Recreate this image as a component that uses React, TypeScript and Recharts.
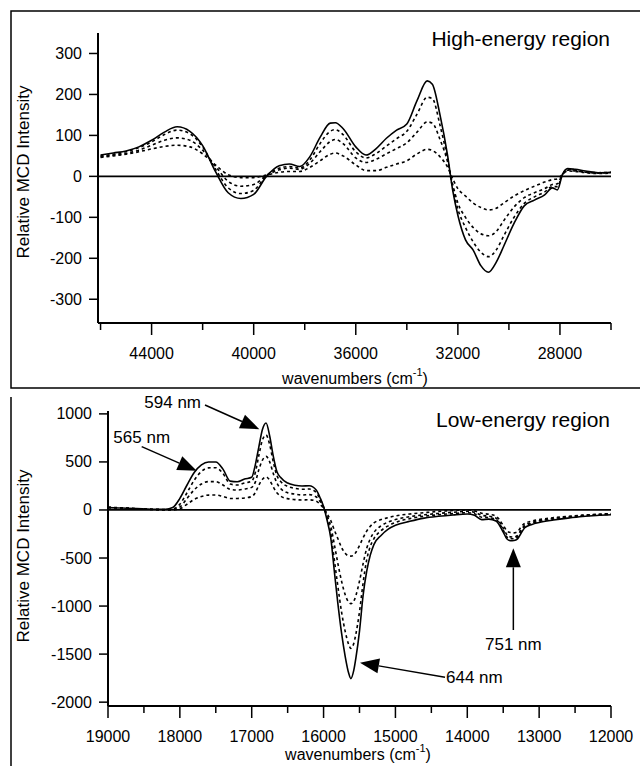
import React from "react";
import { LineChart, Line, XAxis, YAxis, ReferenceLine } from "recharts";

// ---- high-energy region ----
const highX = [
  46000, 45500, 45000, 44500, 44000, 43500, 43000, 42500, 42000, 41500,
  41000, 40500, 40000, 39500, 39000, 38600, 38200, 37800, 37400, 37000,
  36800, 36500, 36000, 35600, 35200, 34800, 34400, 34000, 33600, 33200,
  33000, 32700, 32400, 32200, 32000, 31700, 31400, 31100, 30800, 30500,
  30200, 29800, 29400, 29000, 28600, 28300, 28100, 27900, 27700, 27400,
  27000, 26500, 26000,
];
const highSolid = [
  52, 57, 62, 72, 88, 108, 121, 110, 75, 12,
  -40, -54, -44, 0, 26, 30, 24, 48, 95, 130,
  131, 117, 72, 52, 68, 93, 113, 128, 185, 233,
  225, 150, 50, -35, -95, -155, -180, -218, -234, -210,
  -170, -115, -72, -58, -45, -28, -33, 5, 19, 17,
  13, 9, 10,
];
const highDot1 = [
  50, 54, 60, 70, 84, 102, 113, 104, 72, 18,
  -28, -42, -34, 2, 20, 24, 20, 40, 80, 110,
  114, 102, 60, 45, 56, 74, 92, 110, 152, 193,
  190, 125, 40, -30, -80, -125, -160, -185, -196, -180,
  -145, -100, -66, -50, -38, -25, -25, 5, 17, 15,
  11, 9, 10,
];
const highDot2 = [
  48, 52, 56, 64, 76, 88, 94, 88, 64, 25,
  -12, -24, -20, 2, 16, 20, 17, 32, 60, 85,
  90, 80, 45, 34, 42, 55, 68, 82, 108, 133,
  130, 90, 35, -20, -65, -100, -125, -140, -145, -135,
  -108, -75, -52, -40, -30, -20, -18, 5, 15, 13,
  10, 8, 9,
];
const highDot3 = [
  46, 50, 54, 60, 67, 73, 76, 72, 55, 28,
  4, -3, -3, 3, 10, 12, 12, 22, 38, 54,
  57, 50, 28, 14, 14, 22, 30, 38, 55, 66,
  63, 48, 22, -6, -30, -48, -65, -76, -82, -78,
  -65, -48, -35, -24, -14, -8, -6, 5, 13, 12,
  9, 7, 8,
];

// ---- low-energy region ----
const lowX = [
  19000, 18800, 18600, 18400, 18200, 18100, 18000, 17900, 17800, 17700,
  17600, 17500, 17400, 17300, 17200, 17100, 17000, 16950, 16900, 16850,
  16800, 16750, 16700, 16650, 16600, 16500, 16400, 16300, 16200, 16100,
  16050, 16000, 15950, 15900, 15850, 15800, 15750, 15700, 15650, 15620,
  15580, 15550, 15500, 15450, 15400, 15350, 15300, 15200, 15100, 15000,
  14800, 14600, 14400, 14200, 14000, 13900, 13800, 13700, 13600, 13500,
  13450, 13400, 13350, 13300, 13250, 13200, 13100, 13000, 12800, 12600,
  12400, 12200, 12000,
];
const lowSolid = [
  24, 20, 15, 8, 8, 25, 120, 260, 390, 470,
  500, 500, 425, 300, 293, 322, 340, 470, 660, 840,
  905, 770, 560, 400, 340, 280, 258, 250, 252, 205,
  130, 35, -110, -290, -640, -980, -1280, -1520, -1700, -1755,
  -1670, -1540, -1260, -890, -640, -470, -360, -265, -200, -160,
  -118, -85, -66, -52, -42, -55, -100, -95, -115, -230,
  -300, -320, -318, -300, -240, -185, -150, -130, -105, -85,
  -68, -57, -50,
];
const lowDot1 = [
  25, 20, 14, 8, 5, 10, 60, 180, 310, 400,
  438, 440, 380, 270, 260, 280, 300, 390, 570, 730,
  780, 680, 500, 360, 300, 245, 225, 215, 218, 180,
  115, 30, -80, -240, -520, -800, -1060, -1260, -1400, -1440,
  -1390, -1290, -1060, -760, -520, -380, -300, -215, -165, -130,
  -90, -65, -50, -38, -28, -40, -75, -80, -100, -210,
  -280, -300, -300, -280, -220, -170, -140, -120, -95, -78,
  -62, -52, -45,
];
const lowDot2 = [
  26, 20, 12, 6, 2, 4, 30, 120, 210, 270,
  295, 295, 260, 215, 208, 218, 235, 290, 420, 520,
  558, 500, 380, 280, 225, 180, 165, 156, 160, 135,
  90, 25, -60, -170, -360, -560, -740, -880, -960, -975,
  -950, -890, -740, -560, -400, -300, -235, -165, -125, -100,
  -70, -50, -36, -24, -14, -25, -55, -65, -85, -190,
  -255, -280, -282, -265, -205, -160, -130, -112, -88, -72,
  -58, -48, -42,
];
const lowDot3 = [
  28, 22, 12, 5, 0, 0, 12, 60, 110, 140,
  155, 156, 140, 120, 120, 125, 140, 180, 260, 320,
  345, 310, 240, 180, 145, 118, 108, 104, 106, 90,
  60, 18, -40, -110, -210, -300, -390, -450, -478, -480,
  -470, -440, -370, -290, -220, -170, -135, -100, -80, -62,
  -42, -28, -15, -6, 0, -10, -35, -45, -65, -160,
  -215, -235, -238, -225, -175, -140, -115, -100, -80, -66,
  -54, -45, -38,
];

// ---- ticks ----
const highXTicks = [46000, 44000, 42000, 40000, 38000, 36000, 34000, 32000, 30000, 28000, 26000];
const highXMajor = [44000, 40000, 36000, 32000, 28000];
const highYTicks = [-300, -200, -100, 0, 100, 200, 300];
const lowXTicks = [
  19000, 18500, 18000, 17500, 17000, 16500, 16000, 15500,
  15000, 14500, 14000, 13500, 13000, 12500, 12000,
];
const lowXMajor = [19000, 18000, 17000, 16000, 15000, 14000, 13000, 12000];
const lowYTicks = [-2000, -1500, -1000, -500, 0, 500, 1000];

// arrows in the low-energy panel: label, tail (x, y), head (x, y)
const arrowLabels = ["594 nm", "565 nm", "644 nm", "751 nm"];
const arrowTails = [[17650, 1092], [18531, 659], [14310, -1741], [13359, -1249]];
const arrowHeads = [[16894, 840], [17766, 409], [15493, -1589], [13359, -399]];

const labelPlace: Record<string, { anchor: string; dx: number; dy: number }> = {
  "594 nm": { anchor: "end", dx: -4, dy: 3 },
  "565 nm": { anchor: "middle", dx: 0, dy: -4 },
  "644 nm": { anchor: "start", dx: 1, dy: 6 },
  "751 nm": { anchor: "middle", dx: 0, dy: 20 },
};

const highData = highX.map((x, i) => ({
  x, s: highSolid[i], d1: highDot1[i], d2: highDot2[i], d3: highDot3[i],
}));
const lowData = lowX.map((x, i) => ({
  x, s: lowSolid[i], d1: lowDot1[i], d2: lowDot2[i], d3: lowDot3[i],
}));

const FONT = "'Liberation Sans', Arial, Helvetica, sans-serif";

const makeXTick = (major: number[]) => (props: any) => {
  const { x, y, payload } = props;
  const isMajor = major.includes(payload.value);
  return (
    <g>
      <line x1={x} x2={x} y1={y} y2={y + (isMajor ? 12 : 7)} stroke="#000" strokeWidth={1.5} />
      {isMajor && (
        <text x={x} y={y + 36} textAnchor="middle" fontSize={16} fill="#000">
          {payload.value}
        </text>
      )}
    </g>
  );
};

const YTick = (props: any) => {
  const { x, y, payload } = props;
  return (
    <g>
      <line x1={x} x2={x - 9} y1={y} y2={y} stroke="#000" strokeWidth={1.5} />
      <text x={x - 16} y={y + 5.5} textAnchor="end" fontSize={16} fill="#000">
        {payload.value}
      </text>
    </g>
  );
};

function Arrow(props: any) {
  const { x1, y1, x2, y2, label } = props;
  const len = Math.hypot(x2 - x1, y2 - y1) || 1;
  const ux = (x2 - x1) / len;
  const uy = (y2 - y1) / len;
  const hl = 19;
  const hw = 7.5;
  const bx = x2 - ux * hl;
  const by = y2 - uy * hl;
  const pts = `${x2},${y2} ${bx - uy * hw},${by + ux * hw} ${bx + uy * hw},${by - ux * hw}`;
  const place = labelPlace[label];
  return (
    <g>
      <line x1={x1} y1={y1} x2={bx} y2={by} stroke="#000" strokeWidth={1.5} />
      <polygon points={pts} fill="#000" />
      <text x={x1 + place.dx} y={y1 + place.dy} textAnchor={place.anchor} fontSize={17} fill="#000">
        {label}
      </text>
    </g>
  );
}

const series = [
  { key: "d3", dash: "3 3" },
  { key: "d2", dash: "3 3" },
  { key: "d1", dash: "3 3" },
  { key: "s", dash: undefined },
];

function XLabel({ cx, y }: { cx: number; y: number }) {
  return (
    <text x={cx} y={y} textAnchor="middle" fontSize={16} fill="#000">
      wavenumbers (cm
      <tspan dy={-8} fontSize={11}>-1</tspan>
      <tspan dy={8}>)</tspan>
    </text>
  );
}

export default function App() {
  return (
    <div
      style={{
        position: "absolute",
        left: 0,
        top: 0,
        width: 640,
        height: 766,
        background: "#fff",
        fontFamily: FONT,
        overflow: "hidden",
      }}
    >
      <div style={{ position: "absolute", left: 0, top: 0 }}>
        <LineChart
          width={640}
          height={385}
          data={highData}
          margin={{ top: 33, right: 29, bottom: 17, left: 38 }}
        >
          <XAxis
            dataKey="x"
            type="number"
            domain={[26000, 46100]}
            reversed
            allowDataOverflow
            ticks={highXTicks}
            interval={0}
            tickSize={0}
            tickMargin={0}
            tickLine={false}
            tick={makeXTick(highXMajor)}
            height={45}
            axisLine={{ stroke: "#000", strokeWidth: 2 }}
          />
          <YAxis
            type="number"
            domain={[-358, 350]}
            allowDataOverflow
            ticks={highYTicks}
            interval={0}
            tickSize={0}
            tickMargin={0}
            tickLine={false}
            tick={YTick}
            width={60}
            axisLine={{ stroke: "#000", strokeWidth: 2 }}
          />
          <ReferenceLine y={0} stroke="#000" strokeWidth={1.8} />
          {series.map((s) => (
            <Line
              key={s.key}
              type="monotone"
              dataKey={s.key}
              stroke="#000"
              strokeWidth={1.6}
              strokeDasharray={s.dash}
              dot={false}
              isAnimationActive={false}
            />
          ))}
        </LineChart>
      </div>

      <div style={{ position: "absolute", left: 0, top: 385 }}>
        <LineChart
          width={640}
          height={381}
          data={lowData}
          margin={{ top: 26, right: 29, bottom: 15, left: 48 }}
        >
          <XAxis
            dataKey="x"
            type="number"
            domain={[12000, 19000]}
            reversed
            allowDataOverflow
            ticks={lowXTicks}
            interval={0}
            tickSize={0}
            tickMargin={0}
            tickLine={false}
            tick={makeXTick(lowXMajor)}
            height={45}
            axisLine={{ stroke: "#000", strokeWidth: 2 }}
          />
          <YAxis
            type="number"
            domain={[-2040, 1030]}
            allowDataOverflow
            ticks={lowYTicks}
            interval={0}
            tickSize={0}
            tickMargin={0}
            tickLine={false}
            tick={YTick}
            width={60}
            axisLine={{ stroke: "#000", strokeWidth: 2 }}
          />
          <ReferenceLine y={0} stroke="#000" strokeWidth={1.8} />
          {series.map((s) => (
            <Line
              key={s.key}
              type="monotone"
              dataKey={s.key}
              stroke="#000"
              strokeWidth={1.6}
              strokeDasharray={s.dash}
              dot={false}
              isAnimationActive={false}
            />
          ))}
          {arrowLabels.map((label, i) => (
            <ReferenceLine
              key={label}
              segment={[
                { x: arrowTails[i][0], y: arrowTails[i][1] },
                { x: arrowHeads[i][0], y: arrowHeads[i][1] },
              ]}
              ifOverflow="visible"
              shape={(p: any) => <Arrow {...p} label={label} />}
            />
          ))}
        </LineChart>
      </div>

      <svg
        width={640}
        height={766}
        style={{ position: "absolute", left: 0, top: 0, pointerEvents: "none" }}
      >
        <polyline points="640,11 11,11 11,388 640,388" fill="none" stroke="#000" strokeWidth={1.5} />
        <line x1={11} y1={397} x2={11} y2={766} stroke="#000" strokeWidth={1.5} />
        <text x={610} y={46} textAnchor="end" fontSize={21} fill="#000">High-energy region</text>
        <text x={610} y={427} textAnchor="end" fontSize={21} fill="#000">Low-energy region</text>
        <text transform="translate(29,172) rotate(-90)" textAnchor="middle" fontSize={17} fill="#000">
          Relative MCD Intensity
        </text>
        <text transform="translate(29,556) rotate(-90)" textAnchor="middle" fontSize={17} fill="#000">
          Relative MCD Intensity
        </text>
        <XLabel cx={355} y={384} />
        <XLabel cx={358} y={760} />
      </svg>
    </div>
  );
}
